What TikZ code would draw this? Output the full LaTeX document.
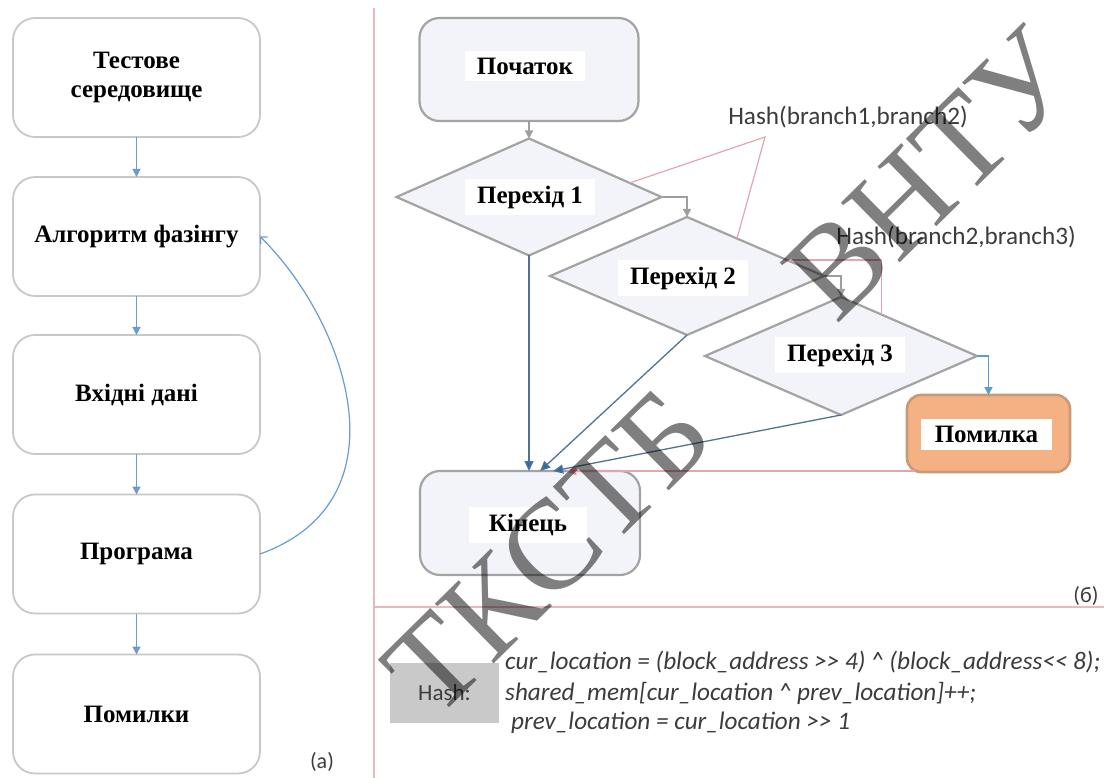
\documentclass[tikz,border=0pt]{standalone}
\usepackage{fontspec}
\setmainfont{Liberation Serif}
\newfontfamily\calib{Carlito}
\usetikzlibrary{arrows.meta,shapes.geometric,calc}

\definecolor{lboxline}{HTML}{C8C8C8}
\definecolor{larrow}{HTML}{6A9BD1}
\definecolor{rline}{HTML}{A3A3A3}
\definecolor{rfill}{HTML}{F3F4F9}
\definecolor{garrow}{HTML}{9E9E9E}
\definecolor{darrow}{HTML}{4F7397}
\definecolor{darrowtip}{HTML}{2F6CA6}
\definecolor{barrow}{HTML}{5B9BD5}
\definecolor{pinkline}{HTML}{E2A6AE}
\definecolor{pinktip}{HTML}{E88C8C}
\definecolor{errfill}{HTML}{F4B183}
\definecolor{errline}{HTML}{C89B76}
\definecolor{hashgray}{HTML}{C9C9C9}
\definecolor{txtgray}{HTML}{3C3C3C}

\tikzset{
  lbox/.style={draw=lboxline, line width=1.8pt, fill=white, rounded corners=22pt,
    minimum width=247pt, minimum height=119pt, inner sep=0pt, outer sep=0pt,
    align=center, font=\fontsize{25}{29}\selectfont\bfseries},
  rbox/.style={draw=rline, line width=2.2pt, fill=rfill, rounded corners=20pt,
    inner sep=0pt, outer sep=0pt},
  dia/.style={diamond, draw=rline, line width=2.2pt, fill=rfill, inner sep=0pt, outer sep=0pt},
  errbox/.style={draw=errline, line width=2.6pt, fill=errfill, rounded corners=14pt,
    inner sep=0pt, outer sep=0pt},
  lbl/.style={fill=white, inner xsep=12pt, inner ysep=7pt,
    font=\fontsize{25}{29}\selectfont\bfseries},
  la/.style={draw=larrow, line width=1.2pt, -{Triangle[length=8pt,width=8pt]}},
  lcurve/.style={draw=larrow, line width=1.2pt, -{Straight Barb[length=5pt,width=10pt]}},
  ga/.style={draw=garrow, line width=1.6pt, -{Triangle[length=8pt,width=8pt]}},
  da/.style={draw=darrow, line width=1.3pt, -{Triangle[length=10pt,width=9pt,fill=darrowtip]}},
  ba/.style={draw=barrow, line width=1.3pt, -{Triangle[length=8pt,width=8pt]}},
  pa/.style={draw=pinkline, line width=1.2pt, -{Triangle[length=10pt,width=9pt,fill=pinktip]}},
  callout/.style={draw=pinkline, line width=1.2pt},
  sepline/.style={draw=pinkline!80, line width=1.2pt},
  hlab/.style={inner sep=0pt, text=txtgray, font=\calib\fontsize{25.2}{29}\selectfont},
  code/.style={inner sep=0pt, anchor=west, text=txtgray, font=\calib\itshape\fontsize{25.2}{29}\selectfont},
  tag/.style={inner sep=0pt, text=txtgray, font=\calib\fontsize{22}{26}\selectfont},
  stamp/.style={inner sep=0pt, text=black, text opacity=0.5,
    font=\fontsize{128}{128}\selectfont}
}

\begin{document}
\begin{tikzpicture}[x=1pt,y=-1pt]
\useasboundingbox (0,0) rectangle (1104,778);
\fill[white] (0,0) rectangle (1104,778);

% frame lines between the panels
\draw[sepline] (374,8) -- (374,778);
\draw[sepline] (374,607) -- (1104,607);

% ---- panel (a): fuzzing loop ----
\node[lbox] (b1) at (136.5,77.5) {Тестове\\середовище};
\node[lbox] (b2) at (136.5,236.5) {Алгоритм фазінгу};
\node[lbox] (b3) at (136.5,394.5) {Вхідні дані};
\node[lbox] (b4) at (136.5,554) {Програма};
\node[lbox] (b5) at (136.5,714) {Помилки};
\draw[la] (b1) -- (b2);
\draw[la] (b2) -- (b3);
\draw[la] (b3) -- (b4);
\draw[la] (b4) -- (b5);
\draw[lcurve] (b4.east) .. controls (410,500) and (345,320) .. (b2.east);
\node[tag] (ta) at (322,762) {(a)};

% ---- panel (б): branch graph ----
\node[rbox, minimum width=219pt, minimum height=103pt] (start) at (529,69.5) {};
\node[lbl] (startl) at (525,66) {Початок};

\node[dia, minimum width=265pt, minimum height=117pt] (d1) at (529,197) {};
\node[lbl] (d1l) at (530,197) {Перехід 1};
\node[dia, minimum width=274pt, minimum height=118pt] (d2) at (687,276) {};
\node[lbl] (d2l) at (683,278) {Перехід 2};
\node[dia, minimum width=272pt, minimum height=118pt] (d3) at (841,356) {};
\node[lbl] (d3l) at (840,355) {Перехід 3};

\node[errbox, minimum width=163pt, minimum height=77pt] (err) at (988.5,433.5) {};
\node[lbl, inner xsep=14pt] (errl) at (986.5,434.5) {Помилка};

\node[rbox, minimum width=220pt, minimum height=104pt] (fin) at (530,523) {};
\node[lbl, inner xsep=20pt] (finl) at (528,525) {Кінець};

% flow between the blocks
\draw[ga] (start.south) -- (d1.north);
\draw[ga] (d1.east) -| (d2.north);
\draw[ga] (d2.east) -| (d3.north);
\draw[ba] (d3.east) -| (err.north);
\draw[da] (d1.south) -- (d1.south |- fin.north);
\draw[da] (d2.south) -- (fin.79);
\draw[da] (d3.south) -- (fin.66);
\coordinate (errfoot) at ($(err.south west)+(8,-1)$);
\draw[pa] (errfoot) -- (errfoot -| fin.55);

% hash call-outs on the edges
\node[hlab] (h1) at (848,117) {Hash(branch1,branch2)};
\node[hlab] (h2) at (956,237) {Hash(branch2,branch3)};
\coordinate (h1tip) at (765,137);
\draw[callout] ($(d1.north)!0.76!(d1.east)$) -- (h1tip) -- ($(d2.north)!0.365!(d2.east)$);
\draw[callout] ($(d2.north)!0.73!(d2.east)$) -| ($(d3.north)!0.30!(d3.east)$);

\node[tag] (tb) at (1086,596) {(б)};

% ---- hash definition ----
\node[fill=hashgray, minimum width=109pt, minimum height=60pt, inner sep=0pt,
      text=txtgray, font=\calib\fontsize{23}{26}\selectfont] (hb) at (444.5,693) {Hash:};
\node[code] (c1) at (505,662) {cur\_location = (block\_address >\kern0pt> 4) \textasciicircum{} (block\_address<\kern0pt< 8);};
\node[code] (c2) at (505,693) {shared\_mem[cur\_location \textasciicircum{} prev\_location]++;};
\node[code] (c3) at (511,723) {prev\_location = cur\_location >\kern0pt> 1};

% ---- stamp ----
\node[stamp, rotate=44.6] (wm) at (730,372) {ТКСТБ\hspace{166pt}ВНТУ};
\end{tikzpicture}
\end{document}
